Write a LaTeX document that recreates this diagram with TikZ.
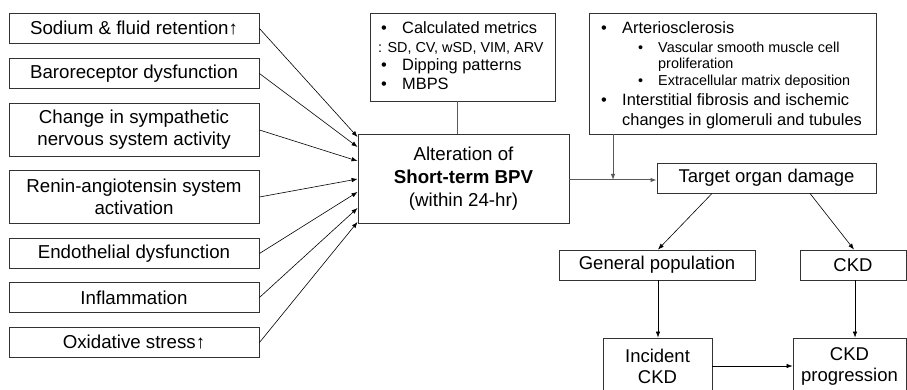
\documentclass[tikz,border=0pt]{standalone}
\usepackage{fontspec}
\setmainfont{Liberation Sans}
\usetikzlibrary{arrows.meta}
\begin{document}
\begin{tikzpicture}[x=1pt,y=-1pt,
  box/.style={draw=black!80, line width=0.9pt, inner sep=0pt, align=center},
  lbox/.style={box, minimum width=250pt, font=\fontsize{18.7}{22}\selectfont},
  rbox/.style={box, minimum height=30pt, font=\fontsize{18.5}{21}\selectfont},
  arr/.style={-{Latex[length=6pt,width=4.5pt]}, line width=0.6pt, draw=black},
  garr/.style={-{Latex[length=6pt,width=4.5pt]}, line width=1pt, draw=black!65},
  gline/.style={line width=1pt, draw=black!65},
  txt/.style={anchor=west, inner sep=0pt, text height=0.5em, text depth=0pt},
  big/.style={txt, font=\fontsize{16.4}{19}\selectfont},
  small/.style={txt, font=\fontsize{14.4}{17}\selectfont}]
\path[use as bounding box, clip] (0,0) rectangle (907,390);

% left boxes
\node[lbox, minimum height=30pt] (l1) at (134,28.5) {Sodium \& fluid retention↑};
\node[lbox, minimum height=30pt] (l2) at (134,73.5) {Baroreceptor dysfunction};
\node[lbox, minimum height=53pt] (l3) at (134,130) {Change in sympathetic\\nervous system activity};
\node[lbox, minimum height=53pt] (l4) at (134,197) {Renin-angiotensin system\\activation};
\node[lbox, minimum height=30pt] (l5) at (134,253.5) {Endothelial dysfunction};
\node[lbox, minimum height=30pt] (l6) at (134,297.5) {Inflammation};
\node[lbox, minimum height=30pt] (l7) at (134,342.5) {Oxidative stress↑};

% central box
\node[box, minimum width=211pt, minimum height=89pt, font=\fontsize{18.7}{23}\selectfont] (c) at (463.5,178.5)
  {Alteration of\\\textbf{Short-term BPV}\\(within 24-hr)};

% metrics box
\node[box, minimum width=185pt, minimum height=88pt] (m) at (462.5,57) {};
\node[big] (m1) at (381,31.5) {\makebox[21pt][l]{•}Calculated metrics};
\node[small] (m2) at (378,50) {: SD, CV, wSD, VIM, ARV};
\node[big] (m3) at (381,68.5) {\makebox[21pt][l]{•}Dipping patterns};
\node[big] (m4) at (381,87) {\makebox[21pt][l]{•}MBPS};

% mechanism box
\node[box, minimum width=287pt, minimum height=121pt] (r) at (732.5,73.5) {};
\node[big] (r1) at (601,31.5) {\makebox[21pt][l]{•}Arteriosclerosis};
\node[small] (r2) at (638,50) {\makebox[20pt][l]{•}Vascular smooth muscle cell};
\node[small] (r3) at (658,66.5) {proliferation};
\node[small] (r4) at (638,83.5) {\makebox[20pt][l]{•}Extracellular matrix deposition};
\node[big] (r5) at (601,103.5) {\makebox[21pt][l]{•}Interstitial fibrosis and ischemic};
\node[big] (r6) at (622,123.5) {changes in glomeruli and tubules};

% right flow
\node[rbox, minimum width=219pt] (t) at (766.5,178) {Target organ damage};
\node[rbox, minimum width=196pt] (g) at (657,265) {General population};
\node[rbox, minimum width=106pt] (k) at (853,265) {CKD};
\node[box, minimum width=109pt, minimum height=56pt, font=\fontsize{18.5}{21}\selectfont] (i) at (657.5,366) {Incident\\CKD};
\node[box, minimum width=113pt, minimum height=56pt, font=\fontsize{18.5}{21}\selectfont] (p) at (849.5,366) {CKD\\progression};

% arrows from left boxes
\draw[arr] (l1.east) -- (c.west |- 0,137);
\draw[arr] (l2.east) -- (c.west |- 0,147);
\draw[arr] (l3.east) -- (c.west |- 0,161);
\draw[arr] (l4.east) -- (c.west |- 0,179);
\draw[arr] (l5.east) -- (c.west |- 0,192);
\draw[arr] (l6.east) -- (c.west |- 0,208);
\draw[arr] (l7.east) -- (c.west |- 0,222);

% metrics to central
\draw[gline] (m.south -| 457,0) -- (c.north -| 457,0);

% central to target
\coordinate (j) at (613,180);
\draw[garr] (c.east |- j) -- (t.west |- j);
\draw[garr] (r.south -| j) -- (j);

% target organ damage branches
\draw[arr] (t.south -| 712,0) -- (g.north -| 658,0);
\draw[arr] (t.south -| 810,0) -- (k.north -| 854,0);
\draw[arr] (g.south -| 658,0) -- (i.north -| 658,0);
\draw[arr] (k.south -| 855,0) -- (p.north -| 855,0);
\draw[arr] (i.east |- 0,366) -- (p.west |- 0,366);
\end{tikzpicture}
\end{document}
